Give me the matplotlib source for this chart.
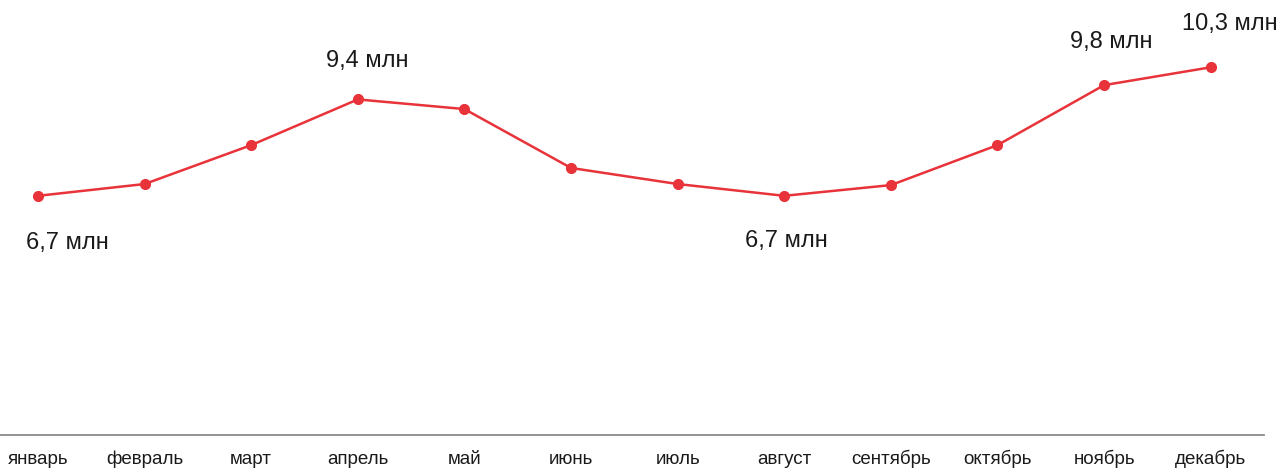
import matplotlib.pyplot as plt

plt.rcParams['font.family'] = ['Liberation Sans', 'DejaVu Sans']

# monthly values, million
months = ['январь', 'февраль', 'март', 'апрель', 'май', 'июнь',
          'июль', 'август', 'сентябрь', 'октябрь', 'ноябрь', 'декабрь']
values = [6.7, 7.03, 8.12, 9.4, 9.13, 7.48, 7.03, 6.7, 7.0, 8.12, 9.8, 10.3]

# which points get a text label, and where (offset in pixels)
labeled = [0, 3, 7, 10, 11]
label_offsets = {0: (29, -47), 3: (9, 38), 7: (2, -45), 10: (7, 43), 11: (19, 43)}

fig = plt.figure(figsize=(12.84, 4.68), dpi=100)
ax = fig.add_axes([0, 1 - 435 / 468, 1264 / 1284, 435 / 468])

x = list(range(len(months)))
ax.plot(x, values, color='#e8333a', lw=1.8, marker='o', ms=7, zorder=3)

for i in labeled:
    dx, dy = label_offsets[i]
    ax.annotate(f'{values[i]:.1f} млн'.replace('.', ','), (i, values[i]),
                xytext=(dx * 0.72, dy * 0.72), textcoords='offset points',
                ha='center', va='center', fontsize=17, color='#1a1a1a',
                annotation_clip=False)

ax.set_xlim(-38 / 106.6, 11.5)
ax.set_ylim(0, 435 / 35.7)
ax.set_xticks(x)
ax.set_xticklabels(months, fontsize=13.5, color='#1a1a1a')
ax.tick_params(axis='x', length=0, pad=21)
for lbl in ax.get_xticklabels():
    lbl.set_va('baseline')
ax.set_yticks([])
for side in ['top', 'right', 'left']:
    ax.spines[side].set_visible(False)
ax.spines['bottom'].set_color('#8a8a8a')
ax.spines['bottom'].set_linewidth(1.3)
ax.patch.set_visible(False)

fig.savefig('out.png', dpi=100)
